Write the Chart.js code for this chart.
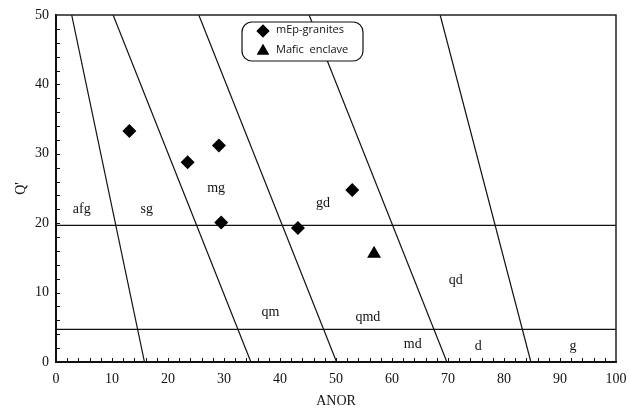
<!DOCTYPE html>
<html>
<head>
<meta charset="utf-8">
<script src="https://cdn.jsdelivr.net/npm/chart.js@4/dist/chart.umd.min.js"></script>
<style>
html,body{margin:0;padding:0;background:#fff;}
canvas{display:block;}
</style>
</head>
<body>
<canvas id="c" width="629" height="410"></canvas>
<script>
// ---- data ----
const graniteANOR = [13.1, 23.5, 29.1, 29.5, 43.2, 52.9];
const graniteQ    = [33.3, 28.8, 31.2, 20.1, 19.3, 24.8];
const enclaveANOR = [56.8];
const enclaveQ    = [15.6];
const seriesNames = ["mEp-granites", "Mafic  enclave"];

// field boundaries: ANOR at Q'=50 (top) and at Q'=0 (bottom)
const boundaryTopANOR    = [2.8, 10.2, 25.5, 45.2, 68.6];
const boundaryBottomANOR = [15.8, 34.8, 50.1, 69.8, 84.8];
const boundaryQ          = [50, 0];
const horizontalQ        = [19.7, 4.7];
const horizontalANOR     = [0, 100];

// field names
const fieldNames = ["afg", "sg", "mg", "gd", "qm", "qmd", "qd", "md", "d", "g"];
const fieldANOR  = [4.6, 16.2, 28.6, 47.7, 38.3, 55.7, 71.4, 63.7, 75.4, 92.3];
const fieldQ     = [22.0, 22.0, 25.0, 22.9, 7.2, 6.5, 11.8, 2.6, 2.3, 2.2];

const xTickLabels = [0, 10, 20, 30, 40, 50, 60, 70, 80, 90, 100];
const yTickLabels = [0, 10, 20, 30, 40, 50];

// ---- build datasets ----
const datasets = [];
datasets.push({
  type: 'scatter', label: seriesNames[0],
  data: graniteANOR.map((x, i) => ({x: x, y: graniteQ[i]})),
  pointStyle: 'rectRot', radius: 7, backgroundColor: '#000', borderColor: '#000', borderWidth: 0,
  order: 0
});
datasets.push({
  type: 'scatter', label: seriesNames[1],
  data: enclaveANOR.map((x, i) => ({x: x, y: enclaveQ[i]})),
  pointStyle: 'triangle', radius: 8, backgroundColor: '#000', borderColor: '#000', borderWidth: 0,
  order: 0
});
boundaryTopANOR.forEach((xt, i) => {
  datasets.push({
    type: 'line', label: '_b' + i,
    data: [{x: xt, y: boundaryQ[0]}, {x: boundaryBottomANOR[i], y: boundaryQ[1]}],
    borderColor: '#111', borderWidth: 1.2, pointRadius: 0, fill: false, order: 1
  });
});
horizontalQ.forEach((q, i) => {
  datasets.push({
    type: 'line', label: '_h' + i,
    data: [{x: horizontalANOR[0], y: q}, {x: horizontalANOR[1], y: q}],
    borderColor: '#111', borderWidth: 1.2, pointRadius: 0, fill: false, order: 1
  });
});

const serif = "'Liberation Serif', 'DejaVu Serif', serif";
const sans = "'Open Sans', 'Noto Sans', sans-serif";

const decorPlugin = {
  id: 'decor',
  afterDatasetsDraw(chart) {
    const ctx = chart.ctx, xs = chart.scales.x, ys = chart.scales.y, a = chart.chartArea;
    ctx.save();
    // field labels
    ctx.fillStyle = '#111';
    ctx.font = '14px ' + serif;
    ctx.textAlign = 'center';
    ctx.textBaseline = 'middle';
    fieldNames.forEach((n, i) => {
      ctx.fillText(n, xs.getPixelForValue(fieldANOR[i]), ys.getPixelForValue(fieldQ[i]));
    });
    // frame top/right
    ctx.strokeStyle = '#222';
    ctx.lineWidth = 1.5;
    ctx.beginPath();
    ctx.moveTo(a.left, a.top); ctx.lineTo(a.right, a.top); ctx.lineTo(a.right, a.bottom);
    ctx.stroke();
    // inward ticks
    ctx.lineWidth = 1;
    ctx.strokeStyle = '#111';
    ctx.beginPath();
    for (let v = 2; v < 100; v += 2) {
      const px = Math.round(xs.getPixelForValue(v)) + 0.5;
      ctx.moveTo(px, a.bottom); ctx.lineTo(px, a.bottom - 4);
    }
    for (let v = 2; v < 50; v += 2) {
      const py = Math.round(ys.getPixelForValue(v)) + 0.5;
      ctx.moveTo(a.left, py); ctx.lineTo(a.left + 4, py);
    }
    ctx.stroke();
    // legend box
    const lx = 242, ly = 22, lw = 121, lh = 39, r = 10;
    ctx.fillStyle = '#fff';
    ctx.strokeStyle = '#111';
    ctx.lineWidth = 1.2;
    ctx.beginPath();
    ctx.roundRect(lx, ly, lw, lh, r);
    ctx.fill();
    ctx.stroke();
    const styles = [
      {style: 'rectRot', radius: 6.5, y: 31},
      {style: 'triangle', radius: 7, y: 51}
    ];
    styles.forEach((s, i) => {
      ctx.fillStyle = '#000';
      ctx.strokeStyle = '#000';
      Chart.helpers.drawPoint(ctx, {pointStyle: s.style, radius: s.radius, borderWidth: 0}, 263, s.y);
      ctx.fill();
      ctx.fillStyle = '#111';
      ctx.font = '11px ' + sans;
      ctx.textAlign = 'left';
      ctx.textBaseline = 'middle';
      ctx.fillText(chart.data.datasets[i].label, 276, s.y - 1);
    });
    ctx.restore();
  }
};

new Chart(document.getElementById('c'), {
  type: 'scatter',
  data: { datasets: datasets },
  options: {
    responsive: false,
    animation: false,
    layout: { padding: { left: 0, top: 15, right: 13, bottom: 0 } },
    plugins: { legend: { display: false }, tooltip: { enabled: false } },
    scales: {
      x: {
        type: 'linear', min: 0, max: 100,
        grid: { display: false, drawTicks: false },
        border: { display: true, color: '#111', width: 2 },
        ticks: {
          stepSize: 10, padding: 9, color: '#111',
          font: { family: serif, size: 14 },
          callback: (v) => xTickLabels.includes(v) ? String(v) : ''
        },
        title: { display: true, text: 'ANOR', color: '#111', font: { family: serif, size: 14 }, padding: { top: 6, bottom: 0 } },
        afterFit(s) { s.height = 48; s.paddingLeft = 0; s.paddingRight = 0; }
      },
      y: {
        type: 'linear', min: 0, max: 50,
        grid: { display: false, drawTicks: false },
        border: { display: true, color: '#111', width: 2 },
        ticks: {
          stepSize: 10, padding: 7, color: '#111',
          font: { family: serif, size: 14 },
          callback: (v) => yTickLabels.includes(v) ? String(v) : ''
        },
        title: { display: true, text: "Q'", color: '#111', font: { family: serif, size: 14 }, padding: { top: 13, bottom: 0 } },
        afterFit(s) { s.width = 56; s.paddingTop = 0; s.paddingBottom = 0; }
      }
    }
  },
  plugins: [decorPlugin]
});
</script>
</body>
</html>
